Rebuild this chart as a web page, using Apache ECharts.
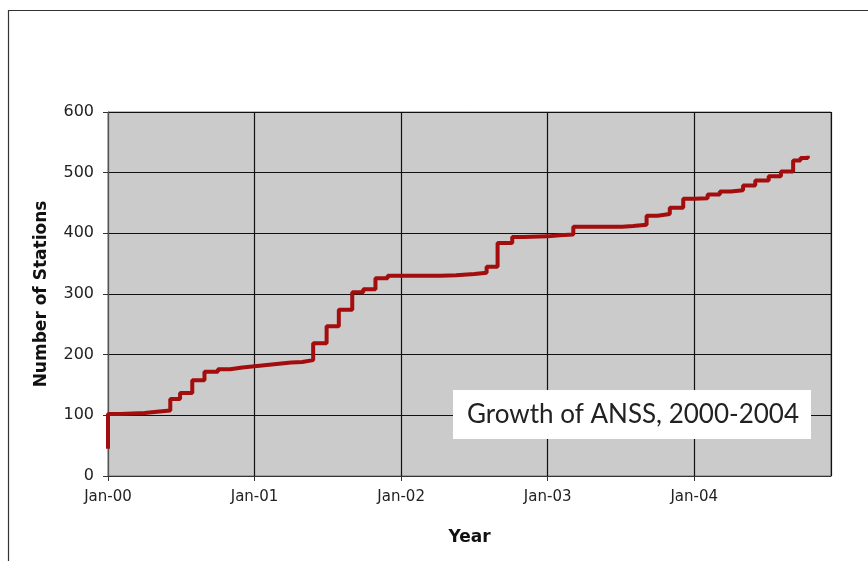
<!DOCTYPE html>
<html>
<head>
<meta charset="utf-8">
<script src="https://cdn.jsdelivr.net/npm/echarts@6/dist/echarts.min.js"></script>
<style>html,body{margin:0;padding:0;background:#fff;}#c{width:868px;height:561px;}</style>
</head>
<body>
<div id="c"></div>
<script>
// Months since Jan 2000 at which the station count changes
var months = [0, 0, 1, 2, 3, 4, 5.1, 5.9, 6.9, 7.9, 9, 10, 11, 12, 13, 14, 15, 15.9, 16.8, 17.9, 18.9, 20.0, 20.9, 21.9, 22.9, 24, 26, 27.2, 28.5, 30, 31.0, 31.9, 33.1, 34, 36, 37, 38.1, 40, 42.1, 43, 44.1, 45, 46.0, 47.1, 48, 49.1, 50.1, 51, 52.0, 53.0, 54.1, 55.1, 56.1, 56.7, 57.3];
// Number of stations after each change
var stations = [45, 102, 103, 104, 106, 108, 127, 137, 158, 172, 176, 179, 181, 183, 185, 187, 188, 191, 219, 247, 274, 303, 308, 326, 330, 330, 330, 331, 333, 335, 345, 384, 394, 395, 397, 398, 411, 411, 412, 414, 429, 432, 442, 457, 458, 464, 469, 471, 479, 487, 494, 502, 520, 524, 528];
var xTickLabels = ['Jan-00', 'Jan-01', 'Jan-02', 'Jan-03', 'Jan-04'];
var yTicks = [0, 100, 200, 300, 400, 500, 600];
var chartTitle = 'Growth of ANSS, 2000-2004';

var data = months.map(function (m, i) { return [m, stations[i]]; });
var chart = echarts.init(document.getElementById('c'));
chart.setOption({
  animation: false,
  backgroundColor: '#fff',
  grid: { left: 108, right: 37, top: 112, bottom: 85, show: true, backgroundColor: '#cbcbcb', borderColor: '#777', borderWidth: 1 },
  xAxis: {
    type: 'value', min: 0, max: 59.2, interval: 12,
    name: 'Year', nameLocation: 'middle', nameGap: 53,
    nameTextStyle: { fontFamily: 'DejaVu Sans', fontSize: 17, fontWeight: 'bold', color: '#111' },
    axisLine: { lineStyle: { color: '#333', width: 1 } },
    axisTick: { show: true, length: 5, lineStyle: { color: '#333' } },
    axisLabel: { margin: 14, showMaxLabel: false, fontFamily: 'DejaVu Sans', fontSize: 15, color: '#222',
      formatter: function (v) { var i = Math.round(v / 12); return (v % 12 === 0 && xTickLabels[i]) ? xTickLabels[i] : ''; } },
    splitLine: { show: true, lineStyle: { color: '#111', width: 1.2 } }
  },
  yAxis: {
    type: 'value', min: yTicks[0], max: yTicks[yTicks.length - 1], interval: 100,
    name: 'Number of Stations', nameLocation: 'middle', nameGap: 58, nameRotate: 90,
    nameTextStyle: { fontFamily: 'DejaVu Sans', fontSize: 17, fontWeight: 'bold', color: '#111' },
    axisLine: { show: true, lineStyle: { color: '#555', width: 1 } },
    axisTick: { show: true, length: 5, lineStyle: { color: '#333' } },
    axisLabel: { margin: 14, fontFamily: 'DejaVu Sans', fontSize: 16, color: '#222' },
    splitLine: { show: true, lineStyle: { color: '#111', width: 1.2 } }
  },
  series: [{
    type: 'line', step: 'end', data: data, showSymbol: false,
    lineStyle: { color: '#a30d0d', width: 4 }, z: 5
  }],
  graphic: [
    { type: 'rect', shape: { x: 8.5, y: 10.5, width: 900, height: 600 }, style: { fill: 'none', stroke: '#333', lineWidth: 1.2 }, silent: true, z: 100 },
    { type: 'rect', shape: { x: 453, y: 390, width: 358, height: 49 }, style: { fill: '#fff' }, z: 100 },
    { type: 'text', x: 633, y: 415, style: { text: chartTitle, font: '26px Lato', fill: '#222', textAlign: 'center', textVerticalAlign: 'middle' }, z: 101 }
  ]
});
</script>
</body>
</html>
